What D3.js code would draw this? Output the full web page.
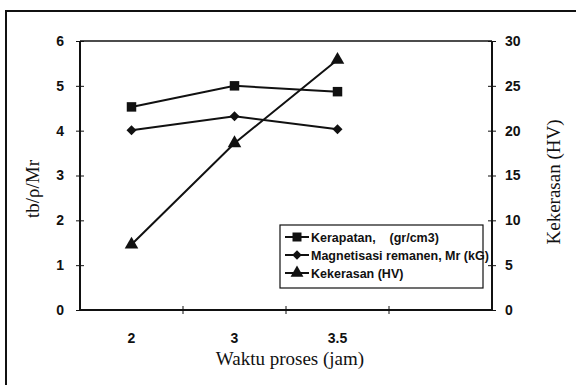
<!DOCTYPE html>
<html><head><meta charset="utf-8">
<script src="https://cdn.jsdelivr.net/npm/d3@7"></script>
<style>body{margin:0;background:#fff}svg{display:block}</style>
</head><body>
<script>
const categories = ["2", "3", "3.5", ""];
const xPoints = ["2", "3", "3.5"];
const kerapatan = [4.53, 5.0, 4.87];
const magnetisasi = [4.01, 4.32, 4.03];
const kekerasan = [7.3, 18.6, 27.9];
const leftTicks = [0, 1, 2, 3, 4, 5, 6];
const rightTicks = [0, 5, 10, 15, 20, 25, 30];
const legendLabels = ["Kerapatan,    (gr/cm3)", "Magnetisasi remanen, Mr (kG)", "Kekerasan (HV)"];

const W = 576, H = 385;
const m = {left: 80, right: 492, top: 41, bottom: 310};
const svg = d3.select("body").append("svg").attr("width", W).attr("height", H);

// outer frame
svg.append("rect").attr("x", 6).attr("y", 11).attr("width", 600).attr("height", 400)
  .attr("fill", "none").attr("stroke", "#111").attr("stroke-width", 2);

const x = d3.scaleBand().domain(categories).range([m.left, m.right]);
const yL = d3.scaleLinear().domain([0, 6]).range([m.bottom, m.top]);
const yR = d3.scaleLinear().domain([0, 30]).range([m.bottom, m.top]);
const cx = d => x(d) + x.bandwidth() / 2;

// plot area top border
svg.append("line").attr("x1", m.left).attr("x2", m.right).attr("y1", m.top).attr("y2", m.top)
  .attr("stroke", "#111").attr("stroke-width", 1.5);

const tickFont = g => g.selectAll("text").attr("font-family", "Liberation Sans, Arial, sans-serif")
  .attr("font-weight", "bold").attr("font-size", 14).attr("fill", "#111");

// left axis
const gl = svg.append("g").attr("transform", `translate(${m.left},0)`)
  .call(d3.axisLeft(yL).tickValues(leftTicks).tickFormat(d3.format("d")).tickSize(4).tickPadding(12));
gl.selectAll(".tick line").attr("x2", 4).attr("x1", -4).attr("stroke", "#111");
gl.select(".domain").remove();
gl.append("line").attr("y1", m.top).attr("y2", m.bottom).attr("stroke", "#111").attr("stroke-width", 2);
tickFont(gl);

// right axis
const gr = svg.append("g").attr("transform", `translate(${m.right},0)`)
  .call(d3.axisRight(yR).tickValues(rightTicks).tickFormat(d3.format("d")).tickSize(4).tickPadding(9));
gr.selectAll(".tick line").attr("x1", -4).attr("x2", 4).attr("stroke", "#111");
gr.select(".domain").remove();
gr.append("line").attr("y1", m.top).attr("y2", m.bottom).attr("stroke", "#111").attr("stroke-width", 2);
tickFont(gr);

// bottom axis
const gb = svg.append("g").attr("transform", `translate(0,${m.bottom})`);
gb.append("line").attr("x1", m.left).attr("x2", m.right).attr("stroke", "#111").attr("stroke-width", 2);
gb.selectAll("line.t").data(categories.slice(1)).join("line").attr("class", "t")
  .attr("x1", d => x(d)).attr("x2", d => x(d)).attr("y1", -4).attr("y2", 4).attr("stroke", "#111");
gb.selectAll("text").data(xPoints).join("text")
  .attr("x", d => cx(d)).attr("y", 33).attr("text-anchor", "middle")
  .attr("font-family", "Liberation Sans, Arial, sans-serif").attr("font-weight", "bold")
  .attr("font-size", 14).attr("fill", "#111").text(d => d);

// axis titles
svg.append("text").attr("transform", `translate(39,189) rotate(-90)`).attr("text-anchor", "middle")
  .attr("font-family", "Liberation Serif, Times New Roman, serif").attr("font-size", 19).attr("fill", "#111")
  .text("tb/ρ/Mr");
svg.append("text").attr("transform", `translate(560,182) rotate(-90)`).attr("text-anchor", "middle")
  .attr("font-family", "Liberation Serif, Times New Roman, serif").attr("font-size", 19).attr("fill", "#111")
  .text("Kekerasan (HV)");
svg.append("text").attr("x", 290).attr("y", 365).attr("text-anchor", "middle")
  .attr("font-family", "Liberation Serif, Times New Roman, serif").attr("font-size", 19).attr("fill", "#111")
  .text("Waktu proses (jam)");

// series
const series = [
  {vals: kerapatan, y: yL, sym: d3.symbolSquare, size: 90, rot: 0},
  {vals: magnetisasi, y: yL, sym: d3.symbolSquare, size: 50, rot: 45},
  {vals: kekerasan, y: yR, sym: d3.symbolTriangle, size: 80, rot: 0}
];
series.forEach(s => {
  const pts = xPoints.map((c, i) => [cx(c), s.y(s.vals[i])]);
  svg.append("path").attr("d", d3.line()(pts)).attr("fill", "none").attr("stroke", "#111").attr("stroke-width", 2);
  svg.selectAll(null).data(pts).join("path")
    .attr("transform", d => `translate(${d[0]},${d[1]}) rotate(${s.rot})`)
    .attr("d", d3.symbol().type(s.sym).size(s.size)).attr("fill", "#111");
});

// legend
const lg = svg.append("g").attr("transform", "translate(280,225)");
lg.append("rect").attr("width", 203).attr("height", 63).attr("fill", "#fff").attr("stroke", "#111").attr("stroke-width", 1.2);
series.forEach((s, i) => {
  const yy = 12 + i * 18;
  lg.append("line").attr("x1", 5).attr("x2", 29).attr("y1", yy).attr("y2", yy).attr("stroke", "#111").attr("stroke-width", 2);
  lg.append("path").attr("transform", `translate(17,${yy}) rotate(${s.rot})`).attr("d", d3.symbol().type(s.sym).size(s.size * 0.9)).attr("fill", "#111");
  lg.append("text").attr("x", 31).attr("y", yy + 4.5).attr("font-family", "Liberation Sans, Arial, sans-serif")
    .attr("font-weight", "bold").attr("font-size", 12.5).attr("fill", "#111")
    .style("white-space", "pre").text(legendLabels[i]);
});
</script>
</body></html>
